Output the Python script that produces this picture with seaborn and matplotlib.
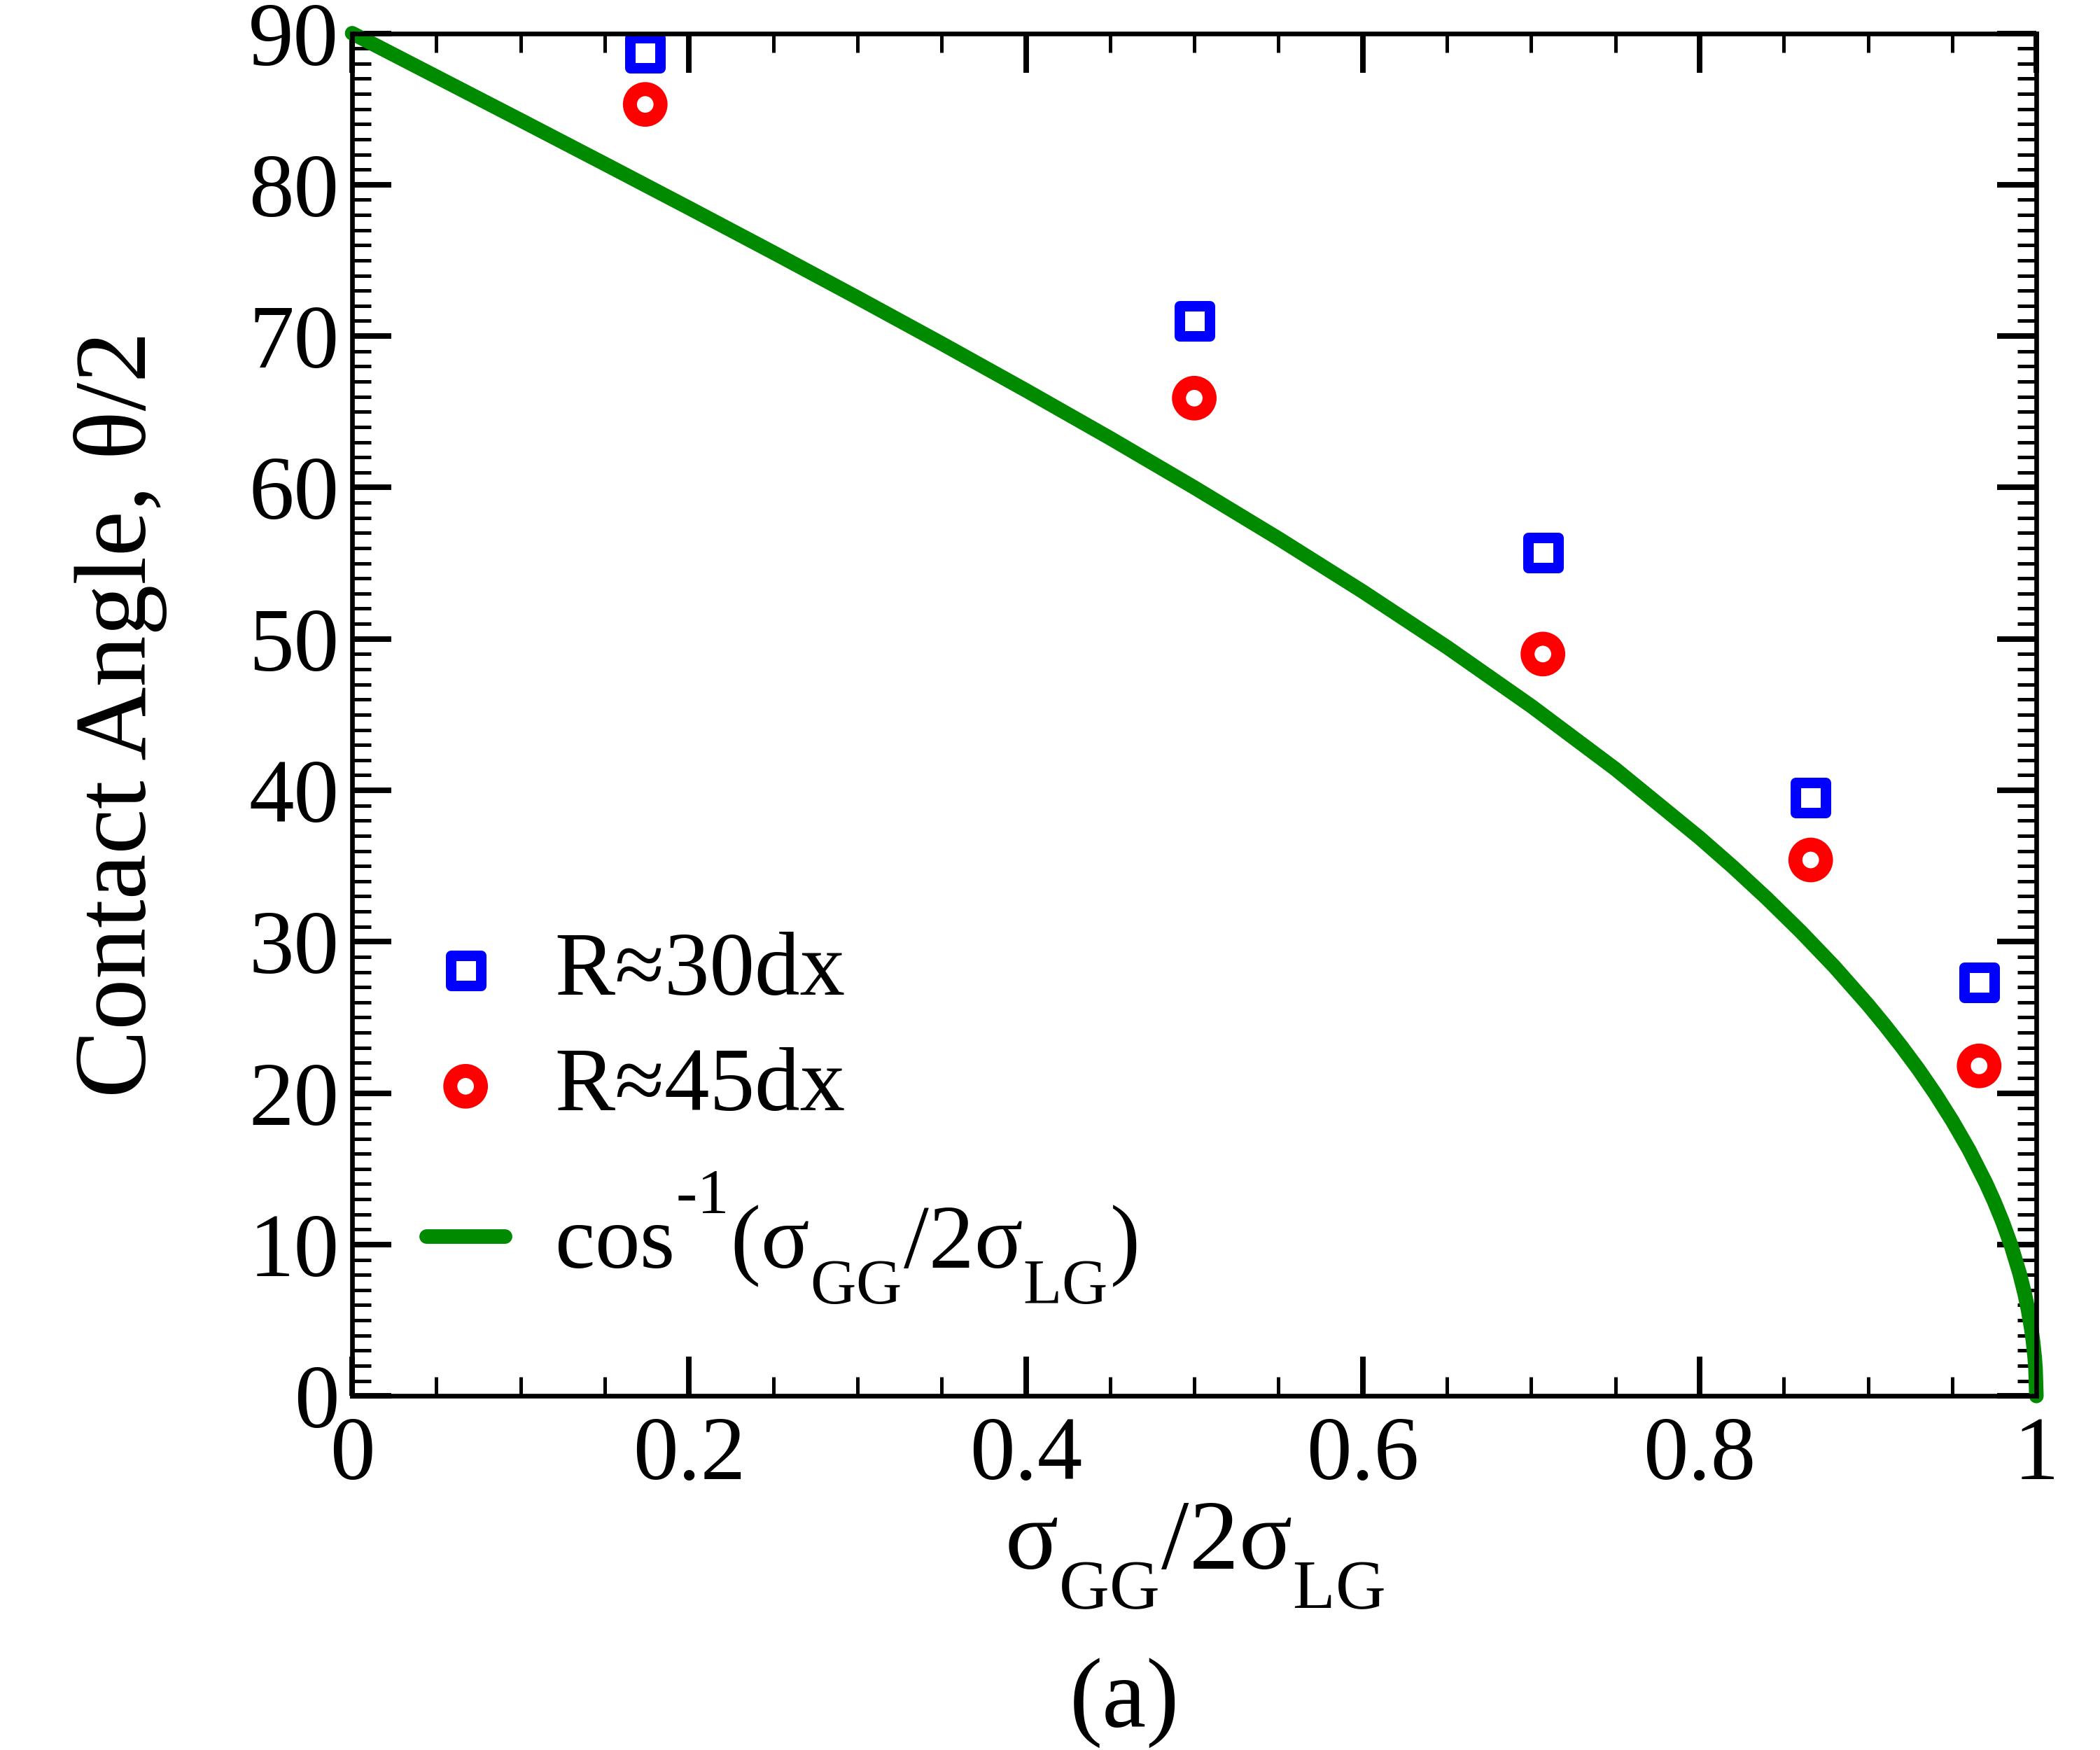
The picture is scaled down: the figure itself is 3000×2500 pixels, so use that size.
import numpy as np
import matplotlib
matplotlib.use("Agg")
import matplotlib.pyplot as plt
import matplotlib._mathtext as mathtext_internal
import seaborn as sns
from matplotlib.ticker import MultipleLocator, FuncFormatter

# data
x_pts = [0.174, 0.500, 0.707, 0.866, 0.966]
r30 = [88.7, 71.0, 55.7, 39.5, 27.3]
r45 = [85.3, 65.9, 49.0, 35.4, 21.8]

# theory curve cos^-1(x) in degrees, sampled values
x_curve = [0.0, 0.05, 0.1, 0.15, 0.2, 0.25, 0.3, 0.35, 0.4, 0.45, 0.5, 0.55,
           0.6, 0.65, 0.7, 0.75, 0.8, 0.82, 0.84, 0.86, 0.88, 0.9, 0.91, 0.92,
           0.93, 0.94, 0.95, 0.96, 0.97, 0.975, 0.98, 0.985, 0.99, 0.993,
           0.995, 0.997, 0.998, 0.999, 0.9995, 1.0]
y_curve = [90.0, 87.13, 84.26, 81.37, 78.46, 75.52, 72.54, 69.51, 66.42, 63.26,
           60.0, 56.63, 53.13, 49.46, 45.57, 41.41, 36.87, 34.92, 32.86, 30.68,
           28.36, 25.84, 24.49, 23.07, 21.57, 19.95, 18.19, 16.26, 14.07, 12.84,
           11.48, 9.94, 8.11, 6.78, 5.73, 4.44, 3.62, 2.56, 1.81, 0.0]

labels = ['R≈30dx', 'R≈45dx', r'$\mathrm{cos^{‐1}(σ_{GG}/2σ_{LG})}$']

sns.set_style("ticks")
plt.rcParams['font.family'] = ['Liberation Serif', 'DejaVu Serif']
plt.rcParams['mathtext.fontset'] = 'custom'
plt.rcParams['mathtext.rm'] = 'Liberation Serif'
plt.rcParams['mathtext.it'] = 'Liberation Serif:italic'
plt.rcParams['mathtext.bf'] = 'Liberation Serif:bold'
for key in ['text.color', 'axes.labelcolor', 'xtick.color', 'ytick.color',
            'axes.edgecolor']:
    plt.rcParams[key] = 'black'

# the original uses deep subscripts and high superscripts
mathtext_internal.FontConstantsBase.sub1 = 0.85
mathtext_internal.FontConstantsBase.sup1 = 1.3

fig = plt.figure(figsize=(10, 2500 / 300))
ax = fig.add_axes([0.1677, 0.2023, 0.9697 - 0.1677, 0.981 - 0.2023])

green = '#008a00'
sns.lineplot(x=x_curve, y=y_curve, color=green, linewidth=5, ax=ax,
             sort=False, errorbar=None, clip_on=False)
sns.scatterplot(x=x_pts, y=r30, marker='s', s=10.3 ** 2, facecolor='none',
                edgecolor='#0000ff', linewidth=3.6, ax=ax, zorder=3)
sns.scatterplot(x=x_pts, y=r45, marker='o', s=10.5 ** 2, facecolor='none',
                edgecolor='#ff0000', linewidth=4.8, ax=ax, zorder=3)

ax.set_xlim(0, 1)
ax.set_ylim(0, 90)
ax.xaxis.set_major_locator(MultipleLocator(0.2))
ax.xaxis.set_minor_locator(MultipleLocator(0.05))
ax.yaxis.set_major_locator(MultipleLocator(10))
ax.yaxis.set_minor_locator(MultipleLocator(1))
ax.xaxis.set_major_formatter(FuncFormatter(lambda v, p: f'{v:g}'))

ax.tick_params(which='both', direction='in', top=True, right=True)
ax.tick_params(which='major', length=13.5, width=1.9, labelsize=31)
ax.tick_params(which='minor', length=6.5, width=1.2)
ax.tick_params(axis='x', which='major', pad=7)
ax.tick_params(axis='y', which='major', pad=4.5)
for sp in ax.spines.values():
    sp.set_linewidth(1.6)
    sp.set_zorder(4)

ax.set_xlabel(r'$\mathrm{σ_{GG}/2σ_{LG}}$', fontsize=34, labelpad=1)
ax.set_ylabel('Contact Angle, θ/2', fontsize=35, labelpad=28)

# legend: markers first, then the theory line with its own spacing
h1 = ax.collections[0]
h2 = ax.collections[1]
h3 = ax.lines[0]
leg_kw = dict(frameon=False, fontsize=31, handlelength=0.87,
              handletextpad=0.55, borderpad=0, borderaxespad=0)
leg1 = ax.legend([h1, h2], labels[:2], loc='upper left',
                 bbox_to_anchor=(0.044, 0.341), labelspacing=0.36, **leg_kw)
ax.add_artist(leg1)
ax.legend([h3], labels[2:], loc='upper left',
          bbox_to_anchor=(0.044, 0.166), **leg_kw)

fig.text(0.5355, 0.027, '(a)', fontsize=34, ha='center', va='center')

fig.savefig('out.png', dpi=300)
